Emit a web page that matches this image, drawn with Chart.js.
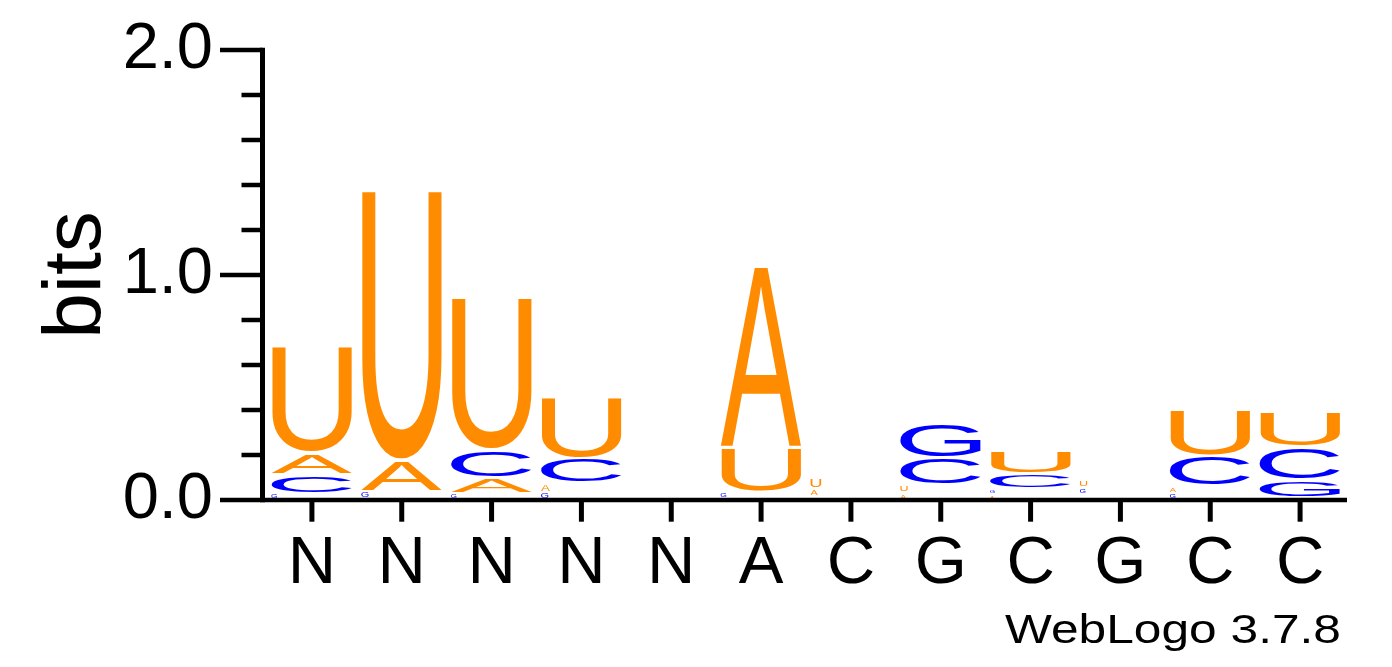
<!DOCTYPE html>
<html>
<head>
<meta charset="utf-8">
<title>WebLogo</title>
<script src="https://cdn.jsdelivr.net/npm/chart.js@4.4.1/dist/chart.umd.min.js"></script>
<style>
  html, body { margin: 0; padding: 0; background: #fff; }
  canvas { display: block; }
</style>
</head>
<body>
<canvas id="logo" width="1392" height="667"></canvas>
<script>
// --- DATA (bits per letter, per position) ---
const positions = ['N', 'N', 'N', 'N', 'N', 'A', 'C', 'G', 'C', 'G', 'C', 'C'];
const heightA = [0.093, 0.138, 0.069, 0.040, 0.010, 0.805, 0.035, 0.031, 0.025, 0.015, 0.032, 0.010];
const heightC = [0.084, 0.005, 0.124, 0.110, 0.005, 0.005, 0.005, 0.122, 0.065, 0.010, 0.135, 0.145];
const heightG = [0.030, 0.035, 0.029, 0.035, 0.005, 0.030, 0.010, 0.153, 0.027, 0.030, 0.030, 0.080];
const heightU = [0.478, 1.200, 0.680, 0.270, 0.015, 0.200, 0.045, 0.035, 0.107, 0.035, 0.210, 0.155];
const yTickStep = 0.2;
const yMax = 2.0;

const letterColors = { A: '#ff8c00', U: '#ff8c00', C: '#0000ff', G: '#0000ff' };
const labelFont = "'Liberation Sans', Arial, Helvetica, sans-serif";
const glyphFont = "100px 'Liberation Sans', Arial, Helvetica, sans-serif";

// --- STACKS: smallest letter at the bottom, largest on top ---
const heights = { A: heightA, C: heightC, G: heightG, U: heightU };
const columns = positions.map((_, i) =>
    Object.keys(heights)
        .map(letter => ({ letter, value: heights[letter][i] }))
        .sort((a, b) => a.value - b.value)
);
const datasets = [0, 1, 2, 3].map(rank => ({
    label: `rank ${rank}`,
    data: columns.map(col => col[rank].value),
    letters: columns.map(col => col[rank].letter),
    stack: 'logo',
    backgroundColor: 'rgba(0,0,0,0)',
    borderWidth: 0,
    barPercentage: 0.9,
    categoryPercentage: 1.0
}));

// --- GLYPHS ---
const glyphCache = {};
function glyphBox(ctx, letter) {
    if (!glyphCache[letter]) {
        ctx.save();
        ctx.font = glyphFont;
        const m = ctx.measureText(letter);
        glyphCache[letter] = {
            left: m.actualBoundingBoxLeft,
            right: m.actualBoundingBoxRight,
            asc: m.actualBoundingBoxAscent,
            desc: m.actualBoundingBoxDescent
        };
        ctx.restore();
    }
    return glyphCache[letter];
}

function drawGlyph(ctx, letter, x0, y0, w, h) {
    const g = glyphBox(ctx, letter);
    ctx.save();
    ctx.translate(x0, y0);
    ctx.scale(w / (g.left + g.right), h / (g.asc + g.desc));
    ctx.font = glyphFont;
    ctx.textAlign = 'left';
    ctx.textBaseline = 'alphabetic';
    ctx.fillStyle = letterColors[letter];
    ctx.fillText(letter, g.left, g.asc);
    ctx.restore();
}

const logoGlyphs = {
    id: 'logoGlyphs',
    afterDatasetsDraw(chart) {
        const ctx = chart.ctx;
        chart.data.datasets.forEach((ds, di) => {
            chart.getDatasetMeta(di).data.forEach((el, i) => {
                const { x, y, base, width } = el.getProps(['x', 'y', 'base', 'width'], true);
                const top = Math.min(y, base), bottom = Math.max(y, base);
                const h = bottom - top - 3;
                if (h < 0.8) return;
                let w = width;
                if (h < 8) w = Math.min(width, h * 1.5);
                drawGlyph(ctx, ds.letters[i], x - width / 2, top + 1.5, w, h);
            });
        });
    }
};

// --- AXES, TICKS AND LABELS ---
const logoAxes = {
    id: 'logoAxes',
    afterDraw(chart) {
        const ctx = chart.ctx;
        const { x: xs, y: ys } = chart.scales;
        const area = chart.chartArea;
        const axisX = area.left - 4.5;
        const y0 = ys.getPixelForValue(0);
        const yTop = ys.getPixelForValue(yMax);
        ctx.save();
        ctx.strokeStyle = '#000';
        ctx.lineCap = 'butt';

        // y axis
        ctx.lineWidth = 5;
        ctx.beginPath();
        ctx.moveTo(axisX, yTop - 2.2);
        ctx.lineTo(axisX, y0 + 2.3);
        ctx.stroke();
        ctx.lineWidth = 4.5;
        ys.ticks.forEach(t => {
            const py = ys.getPixelForValue(t.value);
            const major = Math.abs(t.value - Math.round(t.value)) < 1e-6;
            ctx.beginPath();
            ctx.moveTo(axisX - (major ? 42.5 : 21), py);
            ctx.lineTo(axisX, py);
            ctx.stroke();
        });

        // x axis
        ctx.lineWidth = 4.6;
        ctx.beginPath();
        ctx.moveTo(axisX, y0);
        ctx.lineTo(area.right + 2, y0);
        ctx.stroke();
        ctx.lineWidth = 5;
        positions.forEach((_, i) => {
            const px = xs.getPixelForValue(i);
            ctx.beginPath();
            ctx.moveTo(px, y0);
            ctx.lineTo(px, y0 + 21.7);
            ctx.stroke();
        });

        // axis title
        ctx.fillStyle = '#000';
        ctx.font = `82px ${labelFont}`;
        ctx.textAlign = 'center';
        ctx.textBaseline = 'alphabetic';
        ctx.translate(100, 275);
        ctx.rotate(-Math.PI / 2);
        ctx.fillText('bits', 0, 0);
        ctx.restore();

        // version stamp
        ctx.save();
        ctx.fillStyle = '#000';
        ctx.font = `41px ${labelFont}`;
        ctx.textBaseline = 'alphabetic';
        ctx.textAlign = 'left';
        const stamp = 'WebLogo 3.7.8';
        const m = ctx.measureText(stamp);
        const sx = 335 / (m.actualBoundingBoxLeft + m.actualBoundingBoxRight);
        ctx.translate(1005, 642.7);
        ctx.scale(sx, 1);
        ctx.fillText(stamp, m.actualBoundingBoxLeft, 0);
        ctx.restore();
    }
};

// --- CHART ---
new Chart(document.getElementById('logo'), {
    type: 'bar',
    data: { labels: positions, datasets },
    options: {
        responsive: false,
        animation: false,
        devicePixelRatio: 1,
        layout: { padding: { top: 50, right: 47, bottom: 0, left: 0 } },
        plugins: { legend: { display: false }, tooltip: { enabled: false } },
        scales: {
            x: {
                stacked: true,
                grid: { display: false, drawTicks: false, tickLength: 0 },
                border: { display: false },
                ticks: {
                    color: '#000',
                    font: { family: labelFont, size: 67 },
                    padding: 24,
                    maxRotation: 0,
                    autoSkip: false
                },
                afterFit(scale) { scale.height = 167; }
            },
            y: {
                stacked: true,
                min: 0,
                max: yMax,
                grid: { display: false, drawTicks: false, tickLength: 0 },
                border: { display: false },
                ticks: {
                    stepSize: yTickStep,
                    autoSkip: false,
                    color: '#000',
                    font: { family: labelFont, size: 65 },
                    padding: 54,
                    callback: v => Math.abs(v - Math.round(v)) < 1e-6 ? Number(v).toFixed(1) : ''
                },
                afterFit(scale) {
                    scale.width = 267;
                    scale.paddingTop = 0;
                    scale.paddingBottom = 0;
                }
            }
        }
    },
    plugins: [logoGlyphs, logoAxes]
});
</script>
</body>
</html>
